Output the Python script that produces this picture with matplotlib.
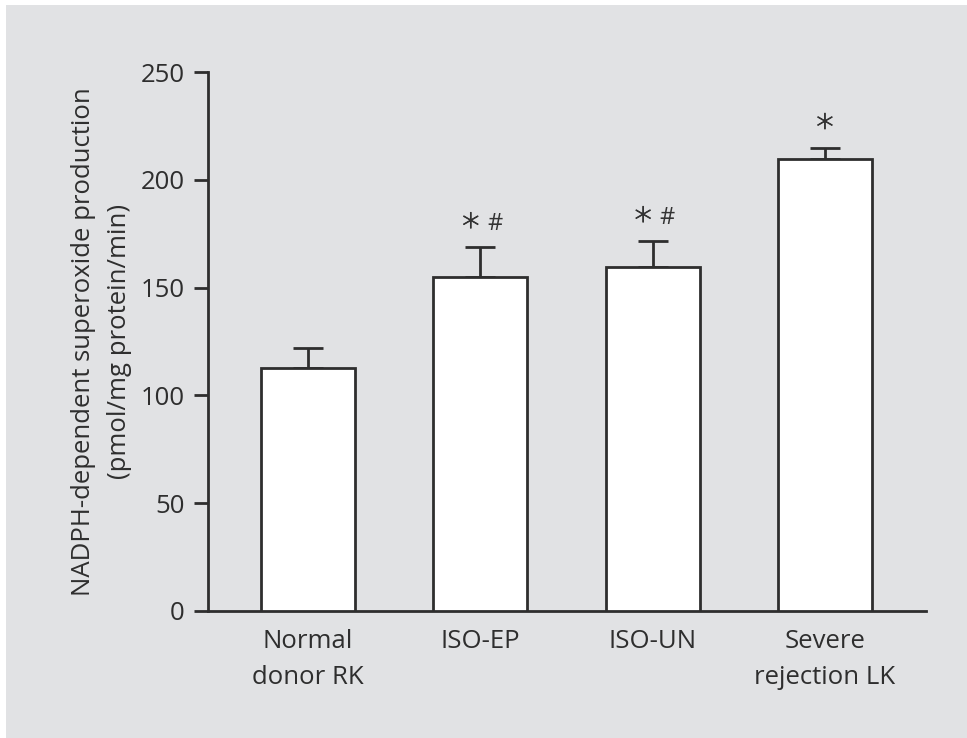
import matplotlib
matplotlib.use("Agg")
import matplotlib.pyplot as plt
import matplotlib.patheffects as pe
from matplotlib.patches import Rectangle

categories = ["Normal\ndonor RK", "ISO-EP", "ISO-UN", "Severe\nrejection LK"]
values = [112.9, 155.1, 159.7, 209.5]
errors = [8.9, 13.6, 11.8, 5.2]
marks = [("", ""), ("\u2217", "#"), ("\u2217", "#"), ("\u2217", "")]
yticks = [0, 50, 100, 150, 200, 250]
ylabel = "NADPH-dependent superoxide production\n(pmol/mg protein/min)"

BG = "#e1e2e4"
INK = "#2e2e2e"
FS = 18.5
plt.rcParams["font.family"] = ["Open Sans", "DejaVu Sans"]

fig = plt.figure(figsize=(9.67, 7.38), dpi=100, facecolor="white")
fig.patches.append(Rectangle((6 / 967, 0), 1, 1 - 5 / 738, transform=fig.transFigure,
                             facecolor=BG, edgecolor="none", zorder=-10))
ax = fig.add_axes([208 / 967, 1 - 611 / 738, (926 - 208) / 967, (611 - 72) / 738])
ax.set_facecolor("none")

x = list(range(len(categories)))
ax.bar(x, values, width=0.545, color="white", edgecolor=INK, linewidth=2, zorder=3)
ax.errorbar(x, values, yerr=[[0] * len(errors), errors], fmt="none", ecolor=INK,
            elinewidth=2, capsize=10.5, capthick=2, zorder=2)

star_fx = [pe.withStroke(linewidth=0.6, foreground="#333333")]
for xi, v, e, (m1, m2) in zip(x, values, errors, marks):
    if m1:
        ax.annotate(m1, (xi, v + e), xytext=(-6.8 if m2 else 0, 18.8), textcoords="offset points",
                    ha="center", va="center", fontsize=25, color="#333333",
                    family=["DejaVu Sans"], fontweight="light", path_effects=star_fx)
    if m2:
        ax.annotate(m2, (xi, v + e), xytext=(10.4, 17.0), textcoords="offset points",
                    ha="center", va="center", fontsize=17, color="#333333")

ax.set_xlim(-0.58, 3.586)
ax.set_ylim(0, 250)
ax.set_yticks(yticks)
ax.set_xticks(x)
ax.set_xticklabels(categories, fontsize=FS, color=INK, linespacing=1.55)
ax.tick_params(axis="x", length=0, pad=13)
ax.tick_params(axis="y", length=10, width=2, color=INK, pad=7, labelsize=FS, labelcolor=INK)
for s in ["top", "right"]:
    ax.spines[s].set_visible(False)
for s in ["left", "bottom"]:
    ax.spines[s].set_linewidth(2)
    ax.spines[s].set_color(INK)
ax.set_ylabel(ylabel, fontsize=FS, color=INK, linespacing=1.55, labelpad=6)

fig.savefig("out.png", dpi=100, facecolor="white")
